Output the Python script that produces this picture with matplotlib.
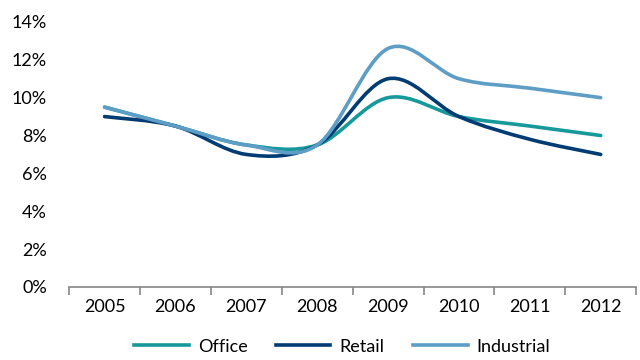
import numpy as np
import matplotlib
matplotlib.use("Agg")
import matplotlib.pyplot as plt
from matplotlib.path import Path
from matplotlib.patches import PathPatch
from matplotlib.lines import Line2D
from matplotlib.ticker import PercentFormatter, FixedLocator

plt.rcParams['font.family'] = ['Lato', 'DejaVu Sans']

years = ['2005', '2006', '2007', '2008', '2009', '2010', '2011', '2012']
office = [9.5, 8.5, 7.5, 7.5, 10.0, 9.0, 8.5, 8.0]
retail = [9.0, 8.5, 7.0, 7.5, 11.0, 9.0, 7.8, 7.0]
industrial = [9.5, 8.5, 7.5, 7.5, 12.6, 11.0, 10.5, 10.0]

series = [("Office", office, "#17999b"),
          ("Retail", retail, "#003b73"),
          ("Industrial", industrial, "#5d9dc6")]


def smooth_path(x, y):
    # Excel-like smoothed line: Catmull-Rom turned into cubic Bezier segments
    pts = np.column_stack([x, y]).astype(float)
    verts = [pts[0]]
    codes = [Path.MOVETO]
    n = len(pts)
    for i in range(n - 1):
        p0 = pts[max(i - 1, 0)]
        p1 = pts[i]
        p2 = pts[i + 1]
        p3 = pts[min(i + 2, n - 1)]
        c1 = p1 + (p2 - p0) / 6.0
        c2 = p2 - (p3 - p1) / 6.0
        verts += [c1, c2, p2]
        codes += [Path.CURVE4] * 3
    return Path(verts, codes)


fig = plt.figure(figsize=(6.4, 3.6), dpi=100)
ax = fig.add_axes([0.108, 0.203, 0.886, 0.736])

x = np.arange(len(years))
handles = []
for name, vals, col in series:
    p = smooth_path(x, np.array(vals) / 100.0)
    ax.add_patch(PathPatch(p, fill=False, edgecolor=col, lw=2.6,
                           capstyle='round', joinstyle='round'))
    handles.append(Line2D([], [], color=col, lw=2.6, label=name))

ax.set_xlim(-0.5, len(years) - 0.5)
ax.set_ylim(0, 0.14)
ax.set_yticks(np.arange(0, 0.141, 0.02))
ax.yaxis.set_major_formatter(PercentFormatter(1.0, decimals=0))
ax.tick_params(axis='y', length=0, labelsize=13, pad=16)

ax.set_xticks(x)
ax.set_xticklabels(years)
ax.xaxis.set_minor_locator(FixedLocator(np.arange(-0.5, len(years), 1.0)))
ax.tick_params(axis='x', which='major', length=0, labelsize=13, pad=9)
ax.tick_params(axis='x', which='minor', length=6, width=1.2, color='#868686')

for s in ['top', 'right', 'left']:
    ax.spines[s].set_visible(False)
ax.spines['bottom'].set_color('#868686')
ax.spines['bottom'].set_linewidth(1.2)

fig.legend(handles=handles, loc='lower center', bbox_to_anchor=(0.535, -0.03),
           ncol=3, frameon=False, fontsize=13, handlelength=3.0,
           columnspacing=1.6, handletextpad=0.5)

fig.savefig("out.png", dpi=100)
